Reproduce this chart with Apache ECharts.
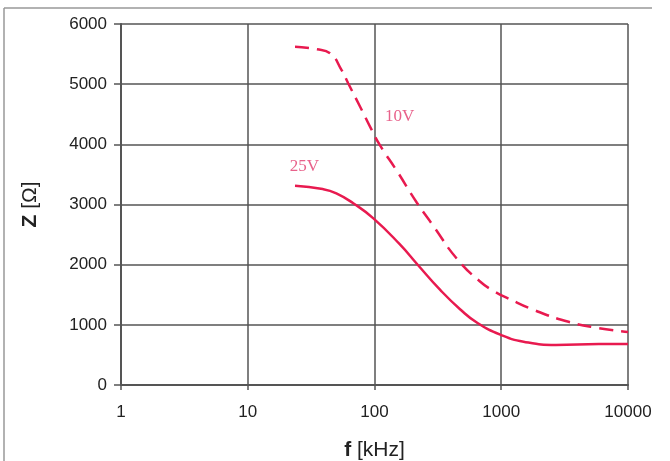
<!DOCTYPE html>
<html>
<head>
<meta charset="utf-8">
<script src="https://cdn.jsdelivr.net/npm/echarts@6/dist/echarts.min.js"></script>
<style>
	html, body {
		margin: 0;
		padding: 0;
		background: #fff;
		overflow: hidden;
	}
	#chart {
		width: 652px;
		height: 461px;
	}
</style>
</head>
<body>
<div id="chart"></div>
<script>
	// frequency in kHz, impedance in ohm
	const freq10V = [23.6, 35, 44.6, 55, 62, 77, 95, 110, 150, 216, 290, 446, 680, 890, 1120, 1820, 3400, 5900, 10000]
	const z10V = [5620, 5580, 5515, 5235, 5015, 4625, 4240, 3990, 3560, 3030, 2650, 2100, 1720, 1550, 1445, 1245, 1050, 945, 880]

	const freq25V = [23.6, 39, 50, 68, 98, 158, 220, 330, 473, 650, 1000, 1500, 2700, 5900, 10000]
	const z25V = [3312, 3257, 3186, 3020, 2770, 2340, 1995, 1580, 1260, 1030, 830, 720, 665, 680, 680]

	const xTicks = [1, 10, 100, 1000, 10000]
	const yTicks = [0, 1000, 2000, 3000, 4000, 5000, 6000]

	const lineColor = "#e81a4f"
	const noteColor = "#e8628b"

	function pairs(xs, ys) {
		return xs.map((x, i) => [x, ys[i]])
	}

	const chart = echarts.init(document.getElementById("chart"))
	chart.setOption({
		animation: false,
		grid: {
			left: 121,
			right: 24,
			top: 24,
			bottom: 76,
			outerBoundsMode: "none"
		},
		xAxis: {
			type: "log",
			logBase: 10,
			min: xTicks[0],
			max: xTicks[xTicks.length - 1],
			name: "{b|f} [kHz]",
			nameLocation: "middle",
			nameGap: 55,
			nameTextStyle: {
				fontFamily: "Liberation Sans",
				fontSize: 21,
				color: "#222",
				rich: {
					b: { fontFamily: "Liberation Sans", fontSize: 21, fontWeight: "bold", color: "#222" }
				}
			},
			axisLine: { show: true, lineStyle: { color: "#555", width: 2 } },
			axisTick: { show: true, length: 5, lineStyle: { color: "#555", width: 1.5 } },
			axisLabel: {
				fontFamily: "Liberation Sans",
				fontSize: 17,
				color: "#222",
				margin: 19,
				formatter: (v) => String(Math.round(v))
			},
			splitLine: { show: true, lineStyle: { color: "#555", width: 1.5 } },
			minorTick: { show: false }
		},
		yAxis: {
			type: "value",
			min: yTicks[0],
			max: yTicks[yTicks.length - 1],
			interval: 1000,
			name: "{b|Z} [Ω]",
			nameLocation: "middle",
			nameGap: 80,
			nameRotate: 90,
			nameTextStyle: {
				fontFamily: "Liberation Sans",
				fontSize: 21,
				color: "#222",
				rich: {
					b: { fontFamily: "Liberation Sans", fontSize: 21, fontWeight: "bold", color: "#222" }
				}
			},
			axisLine: { show: true, lineStyle: { color: "#555", width: 2 } },
			axisTick: { show: true, length: 7, lineStyle: { color: "#555", width: 1.5 } },
			axisLabel: {
				fontFamily: "Liberation Sans",
				fontSize: 17,
				color: "#222",
				margin: 14,
				formatter: (v) => String(v)
			},
			splitLine: { show: true, lineStyle: { color: "#555", width: 1.5 } }
		},
		graphic: [
			{
				type: "line",
				shape: { x1: 4, y1: 8, x2: 652, y2: 8 },
				style: { stroke: "#999", lineWidth: 1.5 }
			},
			{
				type: "line",
				shape: { x1: 4, y1: 8, x2: 4, y2: 461 },
				style: { stroke: "#999", lineWidth: 1.5 }
			}
		],
		series: [
			{
				name: "10V",
				type: "line",
				data: pairs(freq10V, z10V),
				smooth: 0.5,
				symbol: "none",
				lineStyle: { color: lineColor, width: 2.5, type: [14, 8] },
				markPoint: {
					symbol: "circle",
					symbolSize: 0,
					data: [{ coord: [158, 4454] }],
					label: {
						show: true,
						formatter: "10V",
						fontFamily: "Liberation Serif",
						fontSize: 17,
						color: noteColor
					}
				}
			},
			{
				name: "25V",
				type: "line",
				data: pairs(freq25V, z25V),
				smooth: 0.5,
				symbol: "none",
				lineStyle: { color: lineColor, width: 2.5 },
				markPoint: {
					symbol: "circle",
					symbolSize: 0,
					data: [{ coord: [28, 3623] }],
					label: {
						show: true,
						formatter: "25V",
						fontFamily: "Liberation Serif",
						fontSize: 17,
						color: noteColor
					}
				}
			}
		]
	})
</script>
</body>
</html>
